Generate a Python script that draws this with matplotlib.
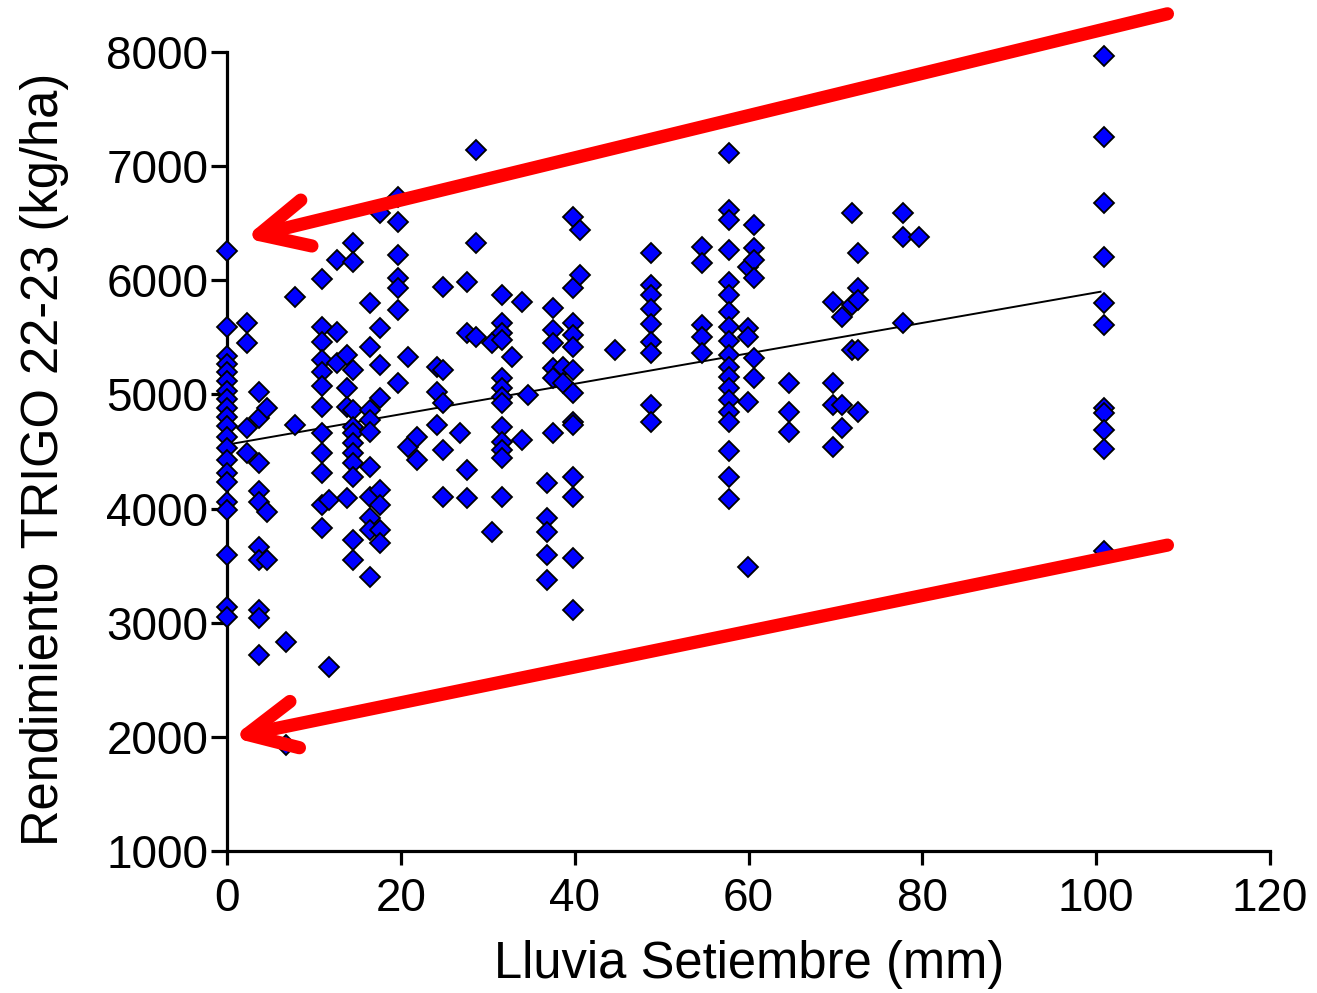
import numpy as np
import matplotlib
matplotlib.use('Agg')
import matplotlib.pyplot as plt

plt.rcParams['font.family'] = ['Liberation Sans', 'DejaVu Sans']

# Lluvia de setiembre (mm) por columna y rendimientos (kg/ha)
lluvia_col = [0, 2.3, 3.7, 4.6, 6.8, 7.8, 10.9, 11.7, 12.6, 13.8, 14.5, 16.5, 17.6, 19.7,
              20.8, 21.9, 24.1, 24.9, 26.8, 27.6, 28.6, 30.5, 31.6, 32.8, 33.9, 34.6,
              36.8, 37.5, 38.6, 39.8, 40.6, 44.6, 48.8, 54.7, 57.7, 59.9, 60.6, 64.7,
              69.7, 70.8, 71.9, 72.6, 77.8, 79.6, 100.9]
rend_col = [
    [6260, 5590, 5340, 5270, 5200, 5120, 5030, 4960, 4880, 4800, 4720, 4630, 4530,
     4430, 4310, 4230, 4060, 3990, 3590, 3140, 3050],
    [5630, 5450, 4710, 4490],
    [5020, 4795, 4400, 4150, 4060, 3660, 3550, 3110, 3040, 2720],
    [4880, 3970, 3550],
    [2830, 1930],
    [5850, 4730],
    [6010, 5590, 5460, 5300, 5200, 5070, 4890, 4660, 4490, 4310, 4030, 3830],
    [4075, 2610],
    [6180, 5550, 5275],
    [5345, 5060, 4890, 4090],
    [6330, 6160, 5215, 4865, 4715, 4660, 4575, 4490, 4400, 4280, 3725, 3550],
    [5800, 5415, 4865, 4775, 4670, 4365, 4100, 3920, 3810, 3400],
    [6590, 5580, 5260, 4970, 4160, 4030, 3810, 3700],
    [6730, 6510, 6220, 6020, 5930, 5740, 5100],
    [5330, 4540],
    [4630, 4425],
    [5240, 5020, 4730],
    [5940, 5215, 4925, 4510, 4100],
    [4660],
    [5985, 5540, 4340, 4090],
    [7140, 6330, 5500],
    [5450, 3795],
    [5870, 5625, 5540, 5480, 5145, 5060, 4980, 4925, 4715, 4585, 4510, 4440, 4100],
    [5330],
    [5810, 4600],
    [4995],
    [4225, 3920, 3795, 3595, 3375],
    [5755, 5565, 5450, 5230, 5145, 4660],
    [5240, 5100],
    [6555, 5930, 5625, 5520, 5415, 5215, 5010, 4760, 4730, 4280, 4100, 3570, 3110],
    [6440, 6050],
    [5390],
    [6240, 5960, 5870, 5750, 5620, 5460, 5365, 4910, 4760],
    [6290, 6150, 5610, 5505, 5365],
    [7115, 6615, 6530, 6265, 5985, 5870, 5720, 5590, 5470, 5345, 5240, 5150, 5055,
     4950, 4845, 4760, 4505, 4280, 4085],
    [6115, 5580, 5505, 4935, 3490],
    [6485, 6280, 6175, 6020, 5320, 5145],
    [5100, 4845, 4670],
    [5810, 5100, 4910, 4540],
    [5680, 4910, 4705],
    [6590, 5785, 5390],
    [6240, 5935, 5830, 5390, 4845],
    [6590, 6380, 5625],
    [6380],
    [7965, 7255, 6680, 6200, 5800, 5610, 4880, 4840, 4690, 4525, 3630],
]

# Recta de regresión (extremos)
recta_x = [0, 100.5]
recta_y = [4560, 5900]

# Flechas rojas: (inicio, punta) en unidades de datos
flecha_sup = [(108.2, 8335), (2.0, 6370)]
flecha_inf = [(108.2, 3680), (0.6, 1995)]

x = np.concatenate([[lx] * len(r) for lx, r in zip(lluvia_col, rend_col)])
y = np.concatenate(rend_col)

fig = plt.figure(figsize=(13.17, 9.93), dpi=100)
ax = fig.add_axes([0.1724, 0.143, 0.7919, 0.8046])

ax.plot(recta_x, recta_y, color='black', lw=1.4, zorder=2)
ax.plot(x, y, linestyle='none', marker='D', markersize=10, markerfacecolor='#0000FF',
        markeredgecolor='black', markeredgewidth=1.3, zorder=3, clip_on=False)

ax.set_xlim(0, 120)
ax.set_ylim(1000, 8000)
ax.set_xticks(np.arange(0, 121, 20))
ax.set_yticks(np.arange(1000, 8001, 1000))

for s in ['top', 'right']:
    ax.spines[s].set_visible(False)
for s in ['left', 'bottom']:
    ax.spines[s].set_linewidth(2.3)

ax.tick_params(axis='x', length=10, width=2.3, pad=9, labelsize=33)
ax.tick_params(axis='y', length=11.5, width=2.3, pad=2, labelsize=33)

ax.set_xlabel('Lluvia Setiembre (mm)', fontsize=36.5)
ax.set_ylabel('Rendimiento TRIGO 22-23 (kg/ha)', fontsize=36.5)
ax.xaxis.set_label_coords(0.501, -0.112)
ax.yaxis.set_label_coords(-0.152, 0.49)

for (x0, y0), (x1, y1) in [flecha_sup, flecha_inf]:
    ax.annotate('', xy=(x1, y1), xytext=(x0, y0), xycoords='data', textcoords='data',
                annotation_clip=False,
                arrowprops=dict(arrowstyle='->, head_length=1.75, head_width=0.85',
                                color='#FF0000', lw=9.5, mutation_scale=20,
                                shrinkA=0, shrinkB=0, capstyle='round',
                                joinstyle='round'),
                zorder=5)

fig.savefig('out.png', dpi=100)
